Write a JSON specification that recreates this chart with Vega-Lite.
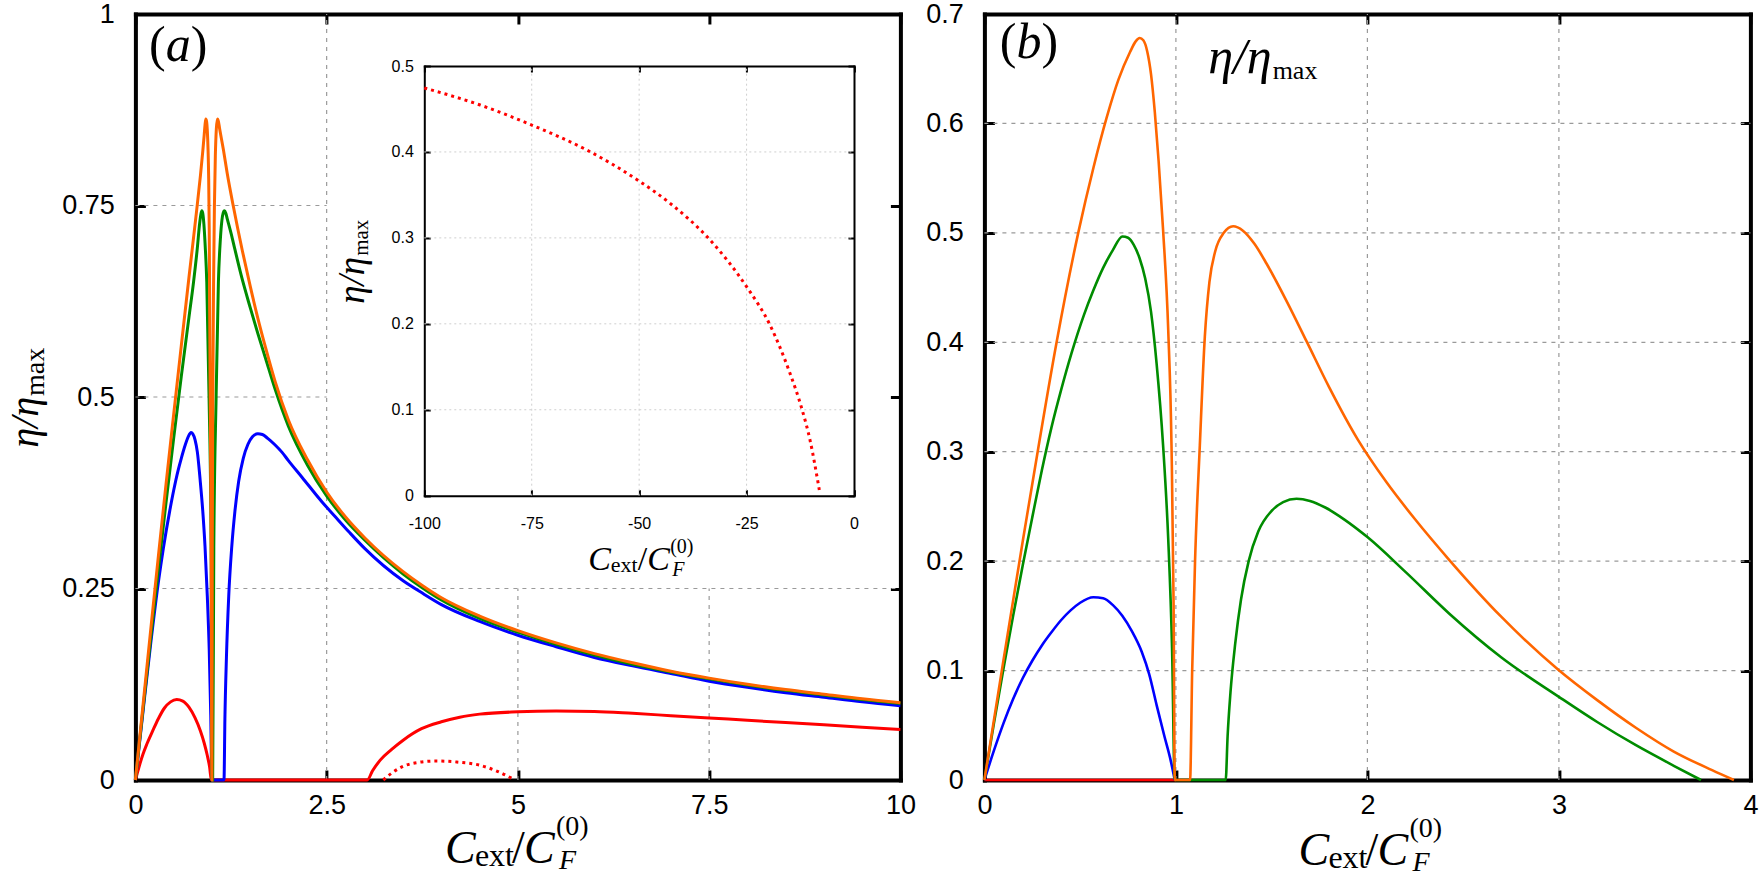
{
  "$schema": "https://vega.github.io/schema/vega-lite/v6.json",
  "background": "white",
  "autosize": {"type": "none"},
  "padding": {"left": 135.4, "top": 14, "right": 1626.6, "bottom": 872},
  "spacing": 84,
  "bounds": "flush",
  "config": {
    "view": {"stroke": null},
    "axis": {
      "labelFont": "Liberation Sans",
      "labelColor": "#000000",
      "labelFontSize": 27,
      "tickColor": "#000000",
      "domainColor": "#000000",
      "grid": false,
      "labelFlush": false,
      "labelOverlap": false,
      "zindex": 1,
      "domainCap": "square"
    },
    "text": {"font": "Liberation Serif", "color": "#000000"}
  },
  "datasets": {
    "gridA": [
      {"x": 2.5, "x2": 2.5, "y": 0, "y2": 1},
      {"x": 5, "x2": 5, "y": 0, "y2": 0.25},
      {"x": 7.5, "x2": 7.5, "y": 0, "y2": 0.25},
      {"x": 0, "x2": 10, "y": 0.25, "y2": 0.25},
      {"x": 0, "x2": 2.5, "y": 0.5, "y2": 0.5},
      {"x": 0, "x2": 2.5, "y": 0.75, "y2": 0.75}
    ],
    "gridInset": [
      {"x": -75, "x2": -75, "y": 0, "y2": 0.5},
      {"x": -50, "x2": -50, "y": 0, "y2": 0.5},
      {"x": -25, "x2": -25, "y": 0, "y2": 0.5},
      {"x": -100, "x2": 0, "y": 0.1, "y2": 0.1},
      {"x": -100, "x2": 0, "y": 0.2, "y2": 0.2},
      {"x": -100, "x2": 0, "y": 0.3, "y2": 0.3},
      {"x": -100, "x2": 0, "y": 0.4, "y2": 0.4}
    ],
    "gridB": [
      {"x": 1, "x2": 1, "y": 0, "y2": 0.7},
      {"x": 2, "x2": 2, "y": 0, "y2": 0.7},
      {"x": 3, "x2": 3, "y": 0, "y2": 0.7},
      {"x": 0, "x2": 4, "y": 0.1, "y2": 0.1},
      {"x": 0, "x2": 4, "y": 0.2, "y2": 0.2},
      {"x": 0, "x2": 4, "y": 0.3, "y2": 0.3},
      {"x": 0, "x2": 4, "y": 0.4, "y2": 0.4},
      {"x": 0, "x2": 4, "y": 0.5, "y2": 0.5},
      {"x": 0, "x2": 4, "y": 0.6, "y2": 0.6}
    ],
    "curvesA": [
      {"curve": "c1", "x": 0, "eta": 0}, {"curve": "c1", "x": 0.05, "eta": 0.018}, {"curve": "c1", "x": 0.1, "eta": 0.034}, {"curve": "c1", "x": 0.15, "eta": 0.047},
      {"curve": "c1", "x": 0.23, "eta": 0.065}, {"curve": "c1", "x": 0.3, "eta": 0.08}, {"curve": "c1", "x": 0.38, "eta": 0.094}, {"curve": "c1", "x": 0.46, "eta": 0.102},
      {"curve": "c1", "x": 0.54, "eta": 0.105}, {"curve": "c1", "x": 0.62, "eta": 0.103}, {"curve": "c1", "x": 0.7, "eta": 0.095}, {"curve": "c1", "x": 0.78, "eta": 0.081},
      {"curve": "c1", "x": 0.85, "eta": 0.064}, {"curve": "c1", "x": 0.9, "eta": 0.048}, {"curve": "c1", "x": 0.94, "eta": 0.032}, {"curve": "c1", "x": 0.97, "eta": 0.017},
      {"curve": "c1", "x": 0.993, "eta": 0}, {"curve": "c1", "x": 2.0, "eta": 0}, {"curve": "c1", "x": 3.03, "eta": 0}, {"curve": "c1", "x": 3.1, "eta": 0.012},
      {"curve": "c1", "x": 3.2, "eta": 0.026}, {"curve": "c1", "x": 3.35, "eta": 0.04}, {"curve": "c1", "x": 3.5, "eta": 0.052}, {"curve": "c1", "x": 3.74, "eta": 0.067},
      {"curve": "c1", "x": 4.0, "eta": 0.076}, {"curve": "c1", "x": 4.24, "eta": 0.082}, {"curve": "c1", "x": 4.5, "eta": 0.086}, {"curve": "c1", "x": 5.0, "eta": 0.089},
      {"curve": "c1", "x": 5.5, "eta": 0.09}, {"curve": "c1", "x": 6.0, "eta": 0.0895}, {"curve": "c1", "x": 6.5, "eta": 0.087}, {"curve": "c1", "x": 7.0, "eta": 0.084},
      {"curve": "c1", "x": 7.5, "eta": 0.081}, {"curve": "c1", "x": 8.0, "eta": 0.078}, {"curve": "c1", "x": 8.5, "eta": 0.075}, {"curve": "c1", "x": 9.0, "eta": 0.072},
      {"curve": "c1", "x": 9.5, "eta": 0.069}, {"curve": "c1", "x": 10, "eta": 0.066},

      {"curve": "c2", "x": 0, "eta": 0}, {"curve": "c2", "x": 0.1, "eta": 0.09}, {"curve": "c2", "x": 0.2, "eta": 0.178}, {"curve": "c2", "x": 0.3, "eta": 0.258},
      {"curve": "c2", "x": 0.366, "eta": 0.303}, {"curve": "c2", "x": 0.45, "eta": 0.352}, {"curve": "c2", "x": 0.5, "eta": 0.378}, {"curve": "c2", "x": 0.56, "eta": 0.405},
      {"curve": "c2", "x": 0.6, "eta": 0.42}, {"curve": "c2", "x": 0.65, "eta": 0.437}, {"curve": "c2", "x": 0.69, "eta": 0.448}, {"curve": "c2", "x": 0.728, "eta": 0.4535},
      {"curve": "c2", "x": 0.75, "eta": 0.452}, {"curve": "c2", "x": 0.78, "eta": 0.444}, {"curve": "c2", "x": 0.81, "eta": 0.428}, {"curve": "c2", "x": 0.846, "eta": 0.392},
      {"curve": "c2", "x": 0.88, "eta": 0.352}, {"curve": "c2", "x": 0.91, "eta": 0.305}, {"curve": "c2", "x": 0.94, "eta": 0.24}, {"curve": "c2", "x": 0.965, "eta": 0.17},
      {"curve": "c2", "x": 0.985, "eta": 0.085}, {"curve": "c2", "x": 1.0, "eta": 0}, {"curve": "c2", "x": 1.158, "eta": 0}, {"curve": "c2", "x": 1.17, "eta": 0.08},
      {"curve": "c2", "x": 1.19, "eta": 0.16}, {"curve": "c2", "x": 1.22, "eta": 0.24}, {"curve": "c2", "x": 1.26, "eta": 0.305}, {"curve": "c2", "x": 1.3, "eta": 0.35},
      {"curve": "c2", "x": 1.35, "eta": 0.39}, {"curve": "c2", "x": 1.41, "eta": 0.42}, {"curve": "c2", "x": 1.47, "eta": 0.438}, {"curve": "c2", "x": 1.53, "eta": 0.448},
      {"curve": "c2", "x": 1.6, "eta": 0.452}, {"curve": "c2", "x": 1.66, "eta": 0.451}, {"curve": "c2", "x": 1.73, "eta": 0.446}, {"curve": "c2", "x": 1.82, "eta": 0.438},
      {"curve": "c2", "x": 1.915, "eta": 0.428}, {"curve": "c2", "x": 2.0, "eta": 0.417}, {"curve": "c2", "x": 2.18, "eta": 0.395}, {"curve": "c2", "x": 2.44, "eta": 0.363},
      {"curve": "c2", "x": 2.61, "eta": 0.344}, {"curve": "c2", "x": 2.8, "eta": 0.323}, {"curve": "c2", "x": 3.0, "eta": 0.302}, {"curve": "c2", "x": 3.5, "eta": 0.26},
      {"curve": "c2", "x": 3.75, "eta": 0.244}, {"curve": "c2", "x": 4.0, "eta": 0.229}, {"curve": "c2", "x": 4.5, "eta": 0.207}, {"curve": "c2", "x": 5.0, "eta": 0.189},
      {"curve": "c2", "x": 5.5, "eta": 0.174}, {"curve": "c2", "x": 6.0, "eta": 0.16}, {"curve": "c2", "x": 6.5, "eta": 0.149}, {"curve": "c2", "x": 7.0, "eta": 0.139},
      {"curve": "c2", "x": 7.5, "eta": 0.129}, {"curve": "c2", "x": 8.0, "eta": 0.121}, {"curve": "c2", "x": 8.5, "eta": 0.114}, {"curve": "c2", "x": 9.0, "eta": 0.108},
      {"curve": "c2", "x": 9.5, "eta": 0.102}, {"curve": "c2", "x": 10, "eta": 0.097},

      {"curve": "c3", "x": 0, "eta": 0}, {"curve": "c3", "x": 0.1, "eta": 0.093}, {"curve": "c3", "x": 0.2, "eta": 0.185}, {"curve": "c3", "x": 0.3, "eta": 0.275},
      {"curve": "c3", "x": 0.4, "eta": 0.362}, {"curve": "c3", "x": 0.5, "eta": 0.446}, {"curve": "c3", "x": 0.6, "eta": 0.527}, {"curve": "c3", "x": 0.7, "eta": 0.604},
      {"curve": "c3", "x": 0.76, "eta": 0.65}, {"curve": "c3", "x": 0.81, "eta": 0.695}, {"curve": "c3", "x": 0.84, "eta": 0.727}, {"curve": "c3", "x": 0.855, "eta": 0.738},
      {"curve": "c3", "x": 0.868, "eta": 0.743}, {"curve": "c3", "x": 0.88, "eta": 0.74}, {"curve": "c3", "x": 0.895, "eta": 0.726}, {"curve": "c3", "x": 0.912, "eta": 0.698},
      {"curve": "c3", "x": 0.933, "eta": 0.65}, {"curve": "c3", "x": 0.963, "eta": 0.5}, {"curve": "c3", "x": 0.99, "eta": 0.305}, {"curve": "c3", "x": 1.0, "eta": 0},
      {"curve": "c3", "x": 1.01, "eta": 0}, {"curve": "c3", "x": 1.025, "eta": 0.305}, {"curve": "c3", "x": 1.055, "eta": 0.5}, {"curve": "c3", "x": 1.085, "eta": 0.65},
      {"curve": "c3", "x": 1.11, "eta": 0.705}, {"curve": "c3", "x": 1.13, "eta": 0.73}, {"curve": "c3", "x": 1.147, "eta": 0.74}, {"curve": "c3", "x": 1.164, "eta": 0.743},
      {"curve": "c3", "x": 1.182, "eta": 0.74}, {"curve": "c3", "x": 1.2, "eta": 0.733}, {"curve": "c3", "x": 1.25, "eta": 0.714}, {"curve": "c3", "x": 1.3, "eta": 0.693},
      {"curve": "c3", "x": 1.38, "eta": 0.66}, {"curve": "c3", "x": 1.5, "eta": 0.617}, {"curve": "c3", "x": 1.6, "eta": 0.583}, {"curve": "c3", "x": 1.7, "eta": 0.551},
      {"curve": "c3", "x": 1.827, "eta": 0.51}, {"curve": "c3", "x": 2.0, "eta": 0.462}, {"curve": "c3", "x": 2.25, "eta": 0.411}, {"curve": "c3", "x": 2.5, "eta": 0.371},
      {"curve": "c3", "x": 2.75, "eta": 0.339}, {"curve": "c3", "x": 3.0, "eta": 0.313}, {"curve": "c3", "x": 3.5, "eta": 0.269}, {"curve": "c3", "x": 3.75, "eta": 0.251},
      {"curve": "c3", "x": 4.0, "eta": 0.235}, {"curve": "c3", "x": 4.5, "eta": 0.211}, {"curve": "c3", "x": 5.0, "eta": 0.193}, {"curve": "c3", "x": 5.5, "eta": 0.177},
      {"curve": "c3", "x": 6.0, "eta": 0.163}, {"curve": "c3", "x": 6.5, "eta": 0.151}, {"curve": "c3", "x": 7.0, "eta": 0.141}, {"curve": "c3", "x": 7.5, "eta": 0.132},
      {"curve": "c3", "x": 8.0, "eta": 0.124}, {"curve": "c3", "x": 8.5, "eta": 0.117}, {"curve": "c3", "x": 9.0, "eta": 0.111}, {"curve": "c3", "x": 9.5, "eta": 0.105},
      {"curve": "c3", "x": 10, "eta": 0.1},

      {"curve": "c4", "x": 0, "eta": 0}, {"curve": "c4", "x": 0.1, "eta": 0.098}, {"curve": "c4", "x": 0.2, "eta": 0.196}, {"curve": "c4", "x": 0.3, "eta": 0.292},
      {"curve": "c4", "x": 0.4, "eta": 0.386}, {"curve": "c4", "x": 0.5, "eta": 0.477}, {"curve": "c4", "x": 0.6, "eta": 0.567}, {"curve": "c4", "x": 0.7, "eta": 0.656},
      {"curve": "c4", "x": 0.8, "eta": 0.743}, {"curve": "c4", "x": 0.85, "eta": 0.789}, {"curve": "c4", "x": 0.88, "eta": 0.82}, {"curve": "c4", "x": 0.9, "eta": 0.843},
      {"curve": "c4", "x": 0.91, "eta": 0.855}, {"curve": "c4", "x": 0.92, "eta": 0.863}, {"curve": "c4", "x": 0.93, "eta": 0.86}, {"curve": "c4", "x": 0.94, "eta": 0.848},
      {"curve": "c4", "x": 0.95, "eta": 0.822}, {"curve": "c4", "x": 0.958, "eta": 0.785}, {"curve": "c4", "x": 0.965, "eta": 0.72}, {"curve": "c4", "x": 0.972, "eta": 0.6},
      {"curve": "c4", "x": 0.978, "eta": 0.5}, {"curve": "c4", "x": 0.99, "eta": 0.305}, {"curve": "c4", "x": 1.0, "eta": 0}, {"curve": "c4", "x": 1.005, "eta": 0.305},
      {"curve": "c4", "x": 1.012, "eta": 0.5}, {"curve": "c4", "x": 1.022, "eta": 0.65}, {"curve": "c4", "x": 1.033, "eta": 0.75}, {"curve": "c4", "x": 1.045, "eta": 0.815},
      {"curve": "c4", "x": 1.058, "eta": 0.85}, {"curve": "c4", "x": 1.072, "eta": 0.863}, {"curve": "c4", "x": 1.085, "eta": 0.86}, {"curve": "c4", "x": 1.1, "eta": 0.851},
      {"curve": "c4", "x": 1.15, "eta": 0.823}, {"curve": "c4", "x": 1.2, "eta": 0.792}, {"curve": "c4", "x": 1.28, "eta": 0.749}, {"curve": "c4", "x": 1.4, "eta": 0.69},
      {"curve": "c4", "x": 1.5, "eta": 0.645}, {"curve": "c4", "x": 1.6, "eta": 0.603}, {"curve": "c4", "x": 1.7, "eta": 0.565}, {"curve": "c4", "x": 1.827, "eta": 0.52},
      {"curve": "c4", "x": 2.0, "eta": 0.47}, {"curve": "c4", "x": 2.25, "eta": 0.418}, {"curve": "c4", "x": 2.5, "eta": 0.376}, {"curve": "c4", "x": 2.75, "eta": 0.343},
      {"curve": "c4", "x": 3.0, "eta": 0.316}, {"curve": "c4", "x": 3.5, "eta": 0.272}, {"curve": "c4", "x": 3.75, "eta": 0.254}, {"curve": "c4", "x": 4.0, "eta": 0.238},
      {"curve": "c4", "x": 4.5, "eta": 0.214}, {"curve": "c4", "x": 5.0, "eta": 0.195}, {"curve": "c4", "x": 5.5, "eta": 0.179}, {"curve": "c4", "x": 6.0, "eta": 0.165},
      {"curve": "c4", "x": 6.5, "eta": 0.153}, {"curve": "c4", "x": 7.0, "eta": 0.142}, {"curve": "c4", "x": 7.5, "eta": 0.133}, {"curve": "c4", "x": 8.0, "eta": 0.125},
      {"curve": "c4", "x": 8.5, "eta": 0.118}, {"curve": "c4", "x": 9.0, "eta": 0.112}, {"curve": "c4", "x": 9.5, "eta": 0.106}, {"curve": "c4", "x": 10, "eta": 0.101}
    ],
    "secondBranchA": [
      {"x": 3.24, "eta": 0}, {"x": 3.35, "eta": 0.009}, {"x": 3.49, "eta": 0.0174}, {"x": 3.7, "eta": 0.023}, {"x": 3.94, "eta": 0.0248},
      {"x": 4.2, "eta": 0.0235}, {"x": 4.49, "eta": 0.0196}, {"x": 4.74, "eta": 0.011}, {"x": 4.96, "eta": 0}
    ],
    "negativeBranch": [
      {"x": -100, "eta": 0.4745}, {"x": -87, "eta": 0.4546}, {"x": -75, "eta": 0.4313}, {"x": -62.2, "eta": 0.4023}, {"x": -49.8, "eta": 0.3654},
      {"x": -42.8, "eta": 0.3402}, {"x": -33.5, "eta": 0.2975}, {"x": -25, "eta": 0.2432}, {"x": -19.55, "eta": 0.1986}, {"x": -14.9, "eta": 0.1424},
      {"x": -12.17, "eta": 0.1017}, {"x": -10.24, "eta": 0.0648}, {"x": -8.07, "eta": 0.0066}
    ],
    "curvesB": [
      {"curve": "c1", "x": 0, "eta": 0}, {"curve": "c1", "x": 1.0, "eta": 0},

      {"curve": "c2", "x": 0, "eta": 0}, {"curve": "c2", "x": 0.05, "eta": 0.027}, {"curve": "c2", "x": 0.1, "eta": 0.052}, {"curve": "c2", "x": 0.15, "eta": 0.074},
      {"curve": "c2", "x": 0.2, "eta": 0.093}, {"curve": "c2", "x": 0.25, "eta": 0.109}, {"curve": "c2", "x": 0.3, "eta": 0.123}, {"curve": "c2", "x": 0.35, "eta": 0.135},
      {"curve": "c2", "x": 0.4, "eta": 0.146}, {"curve": "c2", "x": 0.45, "eta": 0.155}, {"curve": "c2", "x": 0.5, "eta": 0.162}, {"curve": "c2", "x": 0.569, "eta": 0.167},
      {"curve": "c2", "x": 0.62, "eta": 0.166}, {"curve": "c2", "x": 0.67, "eta": 0.16}, {"curve": "c2", "x": 0.72, "eta": 0.15}, {"curve": "c2", "x": 0.77, "eta": 0.136},
      {"curve": "c2", "x": 0.822, "eta": 0.117}, {"curve": "c2", "x": 0.86, "eta": 0.097}, {"curve": "c2", "x": 0.9, "eta": 0.068}, {"curve": "c2", "x": 0.94, "eta": 0.04},
      {"curve": "c2", "x": 0.97, "eta": 0.02}, {"curve": "c2", "x": 0.994, "eta": 0},

      {"curve": "c3", "x": 0, "eta": 0}, {"curve": "c3", "x": 0.05, "eta": 0.052}, {"curve": "c3", "x": 0.1, "eta": 0.102}, {"curve": "c3", "x": 0.15, "eta": 0.15},
      {"curve": "c3", "x": 0.2, "eta": 0.196}, {"curve": "c3", "x": 0.25, "eta": 0.24}, {"curve": "c3", "x": 0.3, "eta": 0.283}, {"curve": "c3", "x": 0.35, "eta": 0.322},
      {"curve": "c3", "x": 0.4, "eta": 0.356}, {"curve": "c3", "x": 0.455, "eta": 0.39}, {"curve": "c3", "x": 0.52, "eta": 0.425}, {"curve": "c3", "x": 0.568, "eta": 0.447},
      {"curve": "c3", "x": 0.62, "eta": 0.468}, {"curve": "c3", "x": 0.67, "eta": 0.484}, {"curve": "c3", "x": 0.721, "eta": 0.4967}, {"curve": "c3", "x": 0.75, "eta": 0.4955},
      {"curve": "c3", "x": 0.78, "eta": 0.489}, {"curve": "c3", "x": 0.81, "eta": 0.477}, {"curve": "c3", "x": 0.84, "eta": 0.458}, {"curve": "c3", "x": 0.87, "eta": 0.428},
      {"curve": "c3", "x": 0.899, "eta": 0.381}, {"curve": "c3", "x": 0.933, "eta": 0.306}, {"curve": "c3", "x": 0.96, "eta": 0.22}, {"curve": "c3", "x": 0.98, "eta": 0.12},
      {"curve": "c3", "x": 0.994, "eta": 0}, {"curve": "c3", "x": 1.26, "eta": 0}, {"curve": "c3", "x": 1.27, "eta": 0.04}, {"curve": "c3", "x": 1.285, "eta": 0.08},
      {"curve": "c3", "x": 1.31, "eta": 0.125}, {"curve": "c3", "x": 1.34, "eta": 0.165}, {"curve": "c3", "x": 1.38, "eta": 0.2}, {"curve": "c3", "x": 1.43, "eta": 0.227},
      {"curve": "c3", "x": 1.5, "eta": 0.246}, {"curve": "c3", "x": 1.56, "eta": 0.254}, {"curve": "c3", "x": 1.63, "eta": 0.257}, {"curve": "c3", "x": 1.7, "eta": 0.255},
      {"curve": "c3", "x": 1.78, "eta": 0.249}, {"curve": "c3", "x": 1.88, "eta": 0.238}, {"curve": "c3", "x": 2.0, "eta": 0.222}, {"curve": "c3", "x": 2.2, "eta": 0.19},
      {"curve": "c3", "x": 2.428, "eta": 0.152}, {"curve": "c3", "x": 2.7, "eta": 0.112}, {"curve": "c3", "x": 3.0, "eta": 0.076}, {"curve": "c3", "x": 3.2, "eta": 0.053},
      {"curve": "c3", "x": 3.4, "eta": 0.032}, {"curve": "c3", "x": 3.6, "eta": 0.013}, {"curve": "c3", "x": 3.742, "eta": 0},

      {"curve": "c4", "x": 0, "eta": 0}, {"curve": "c4", "x": 0.1, "eta": 0.11}, {"curve": "c4", "x": 0.2, "eta": 0.218}, {"curve": "c4", "x": 0.281, "eta": 0.303},
      {"curve": "c4", "x": 0.377, "eta": 0.4}, {"curve": "c4", "x": 0.49, "eta": 0.5}, {"curve": "c4", "x": 0.57, "eta": 0.56}, {"curve": "c4", "x": 0.638, "eta": 0.605},
      {"curve": "c4", "x": 0.7, "eta": 0.64}, {"curve": "c4", "x": 0.76, "eta": 0.665}, {"curve": "c4", "x": 0.79, "eta": 0.675}, {"curve": "c4", "x": 0.811, "eta": 0.678},
      {"curve": "c4", "x": 0.83, "eta": 0.676}, {"curve": "c4", "x": 0.85, "eta": 0.666}, {"curve": "c4", "x": 0.87, "eta": 0.645}, {"curve": "c4", "x": 0.89, "eta": 0.61},
      {"curve": "c4", "x": 0.91, "eta": 0.565}, {"curve": "c4", "x": 0.933, "eta": 0.503}, {"curve": "c4", "x": 0.96, "eta": 0.411}, {"curve": "c4", "x": 0.977, "eta": 0.306},
      {"curve": "c4", "x": 0.988, "eta": 0.16}, {"curve": "c4", "x": 0.994, "eta": 0}, {"curve": "c4", "x": 1.074, "eta": 0}, {"curve": "c4", "x": 1.085, "eta": 0.1},
      {"curve": "c4", "x": 1.1, "eta": 0.2}, {"curve": "c4", "x": 1.125, "eta": 0.306}, {"curve": "c4", "x": 1.151, "eta": 0.405}, {"curve": "c4", "x": 1.175, "eta": 0.455},
      {"curve": "c4", "x": 1.205, "eta": 0.483}, {"curve": "c4", "x": 1.25, "eta": 0.5}, {"curve": "c4", "x": 1.299, "eta": 0.506}, {"curve": "c4", "x": 1.35, "eta": 0.502},
      {"curve": "c4", "x": 1.41, "eta": 0.49}, {"curve": "c4", "x": 1.473, "eta": 0.472}, {"curve": "c4", "x": 1.58, "eta": 0.437}, {"curve": "c4", "x": 1.682, "eta": 0.401},
      {"curve": "c4", "x": 1.8, "eta": 0.359}, {"curve": "c4", "x": 1.95, "eta": 0.311}, {"curve": "c4", "x": 2.1, "eta": 0.272}, {"curve": "c4", "x": 2.25, "eta": 0.238},
      {"curve": "c4", "x": 2.428, "eta": 0.201}, {"curve": "c4", "x": 2.7, "eta": 0.149}, {"curve": "c4", "x": 3.0, "eta": 0.1003}, {"curve": "c4", "x": 3.2, "eta": 0.073},
      {"curve": "c4", "x": 3.4, "eta": 0.048}, {"curve": "c4", "x": 3.6, "eta": 0.026}, {"curve": "c4", "x": 3.8, "eta": 0.009}, {"curve": "c4", "x": 3.914, "eta": 0}
    ]
  },
  "hconcat": [
    {
      "width": 765,
      "height": 766,
      "layer": [
        {
          "layer": [
            {
              "data": {"name": "gridA"},
              "mark": {"type": "rule", "color": "#9a9a9a", "strokeWidth": 1.2, "strokeDash": [4, 5]},
              "encoding": {
                "x": {"field": "x", "type": "quantitative", "scale": {"domain": [0, 10], "nice": false, "zero": false},
                  "axis": {"orient": "top", "values": [0, 2.5, 5, 7.5, 10], "labels": false, "title": null, "tickSize": -10, "tickWidth": 3, "domainWidth": 4}},
                "x2": {"field": "x2"},
                "y": {"field": "y", "type": "quantitative", "scale": {"domain": [0, 1], "nice": false, "zero": false},
                  "axis": {"orient": "right", "values": [0, 0.25, 0.5, 0.75, 1], "labels": false, "title": null, "tickSize": -10, "tickWidth": 3, "domainWidth": 4}},
                "y2": {"field": "y2"}
              }
            },
            {
              "data": {"name": "curvesA"},
              "mark": {"type": "line", "strokeWidth": 3, "interpolate": "monotone"},
              "encoding": {
                "x": {"field": "x", "type": "quantitative",
                  "axis": {"orient": "bottom", "values": [0, 2.5, 5, 7.5, 10], "title": null, "tickSize": -10, "tickWidth": 3, "domainWidth": 4, "labelPadding": 22, "labelExpr": "datum.value + ''"}},
                "y": {"field": "eta", "type": "quantitative",
                  "axis": {"orient": "left", "values": [0, 0.25, 0.5, 0.75, 1], "title": null, "tickSize": -10, "tickWidth": 3, "domainWidth": 4, "labelPadding": 31, "labelExpr": "datum.value + ''"}},
                "color": {"field": "curve", "type": "nominal", "legend": null,
                  "scale": {"domain": ["c1", "c2", "c3", "c4"], "range": ["#ff0000", "#0000ff", "#008c00", "#ff6600"]}}
              }
            },
            {
              "data": {"name": "secondBranchA"},
              "mark": {"type": "line", "color": "#ff0000", "strokeWidth": 3, "strokeDash": [3, 4], "interpolate": "monotone"},
              "encoding": {
                "x": {"field": "x", "type": "quantitative", "axis": null},
                "y": {"field": "eta", "type": "quantitative", "axis": null}
              }
            },
            {"data": {"values": [{}]}, "mark": {"type": "text", "text": "(", "fontSize": 50, "align": "left", "baseline": "alphabetic"},
              "encoding": {"x": {"datum": 0.178, "type": "quantitative", "axis": null}, "y": {"datum": 0.939, "type": "quantitative", "axis": null}}},
            {"data": {"values": [{}]}, "mark": {"type": "text", "text": "a", "fontSize": 50, "fontStyle": "italic", "align": "left", "baseline": "alphabetic", "dx": 16.7},
              "encoding": {"x": {"datum": 0.178, "type": "quantitative", "axis": null}, "y": {"datum": 0.939, "type": "quantitative", "axis": null}}},
            {"data": {"values": [{}]}, "mark": {"type": "text", "text": ")", "fontSize": 50, "align": "left", "baseline": "alphabetic", "dx": 41.7},
              "encoding": {"x": {"datum": 0.178, "type": "quantitative", "axis": null}, "y": {"datum": 0.939, "type": "quantitative", "axis": null}}},

            {"data": {"values": [{}]}, "mark": {"type": "text", "text": "C", "fontSize": 46, "fontStyle": "italic", "align": "left", "baseline": "alphabetic", "dx": -73, "dy": 83},
              "encoding": {"x": {"datum": 5, "type": "quantitative", "axis": null}, "y": {"datum": 0, "type": "quantitative", "axis": null}}},
            {"data": {"values": [{}]}, "mark": {"type": "text", "text": "ext", "fontSize": 32, "align": "left", "baseline": "alphabetic", "dx": -43, "dy": 86},
              "encoding": {"x": {"datum": 5, "type": "quantitative", "axis": null}, "y": {"datum": 0, "type": "quantitative", "axis": null}}},
            {"data": {"values": [{}]}, "mark": {"type": "text", "text": "/", "fontSize": 46, "align": "left", "baseline": "alphabetic", "dx": -6, "dy": 83},
              "encoding": {"x": {"datum": 5, "type": "quantitative", "axis": null}, "y": {"datum": 0, "type": "quantitative", "axis": null}}},
            {"data": {"values": [{}]}, "mark": {"type": "text", "text": "C", "fontSize": 46, "fontStyle": "italic", "align": "left", "baseline": "alphabetic", "dx": 6, "dy": 83},
              "encoding": {"x": {"datum": 5, "type": "quantitative", "axis": null}, "y": {"datum": 0, "type": "quantitative", "axis": null}}},
            {"data": {"values": [{}]}, "mark": {"type": "text", "text": "(0)", "fontSize": 28, "align": "left", "baseline": "alphabetic", "dx": 38, "dy": 55},
              "encoding": {"x": {"datum": 5, "type": "quantitative", "axis": null}, "y": {"datum": 0, "type": "quantitative", "axis": null}}},
            {"data": {"values": [{}]}, "mark": {"type": "text", "text": "F", "fontSize": 28, "fontStyle": "italic", "align": "left", "baseline": "alphabetic", "dx": 41, "dy": 89},
              "encoding": {"x": {"datum": 5, "type": "quantitative", "axis": null}, "y": {"datum": 0, "type": "quantitative", "axis": null}}},

            {"data": {"values": [{}]}, "mark": {"type": "text", "text": "η/η", "fontSize": 40, "fontStyle": "italic", "angle": 270, "align": "right", "baseline": "alphabetic", "dy": -97},
              "encoding": {"x": {"datum": 0, "type": "quantitative", "axis": null}, "y": {"datum": 0.5, "type": "quantitative", "axis": null}}},
            {"data": {"values": [{}]}, "mark": {"type": "text", "text": "max", "fontSize": 28, "angle": 270, "align": "left", "baseline": "alphabetic", "dx": 1, "dy": -91},
              "encoding": {"x": {"datum": 0, "type": "quantitative", "axis": null}, "y": {"datum": 0.5, "type": "quantitative", "axis": null}}}
          ]
        },
        {
          "layer": [
            {
              "data": {"name": "gridInset"},
              "mark": {"type": "rule", "color": "#cfcfcf", "strokeWidth": 1, "strokeDash": [2, 3]},
              "encoding": {
                "x": {"field": "x", "type": "quantitative", "scale": {"domain": [-100, 0], "range": [288.9, 718.6], "nice": false, "zero": false},
                  "axis": {"orient": "top", "offset": -52, "values": [-100, -75, -50, -25, 0], "labels": false, "title": null, "tickSize": -6, "tickWidth": 2, "domainWidth": 2}},
                "x2": {"field": "x2"},
                "y": {"field": "y", "type": "quantitative", "scale": {"domain": [0, 0.5], "range": [481.7, 52], "nice": false, "zero": false},
                  "axis": {"orient": "right", "offset": -46.4, "values": [0, 0.1, 0.2, 0.3, 0.4, 0.5], "labels": false, "title": null, "tickSize": -6, "tickWidth": 2, "domainWidth": 2}},
                "y2": {"field": "y2"}
              }
            },
            {
              "data": {"name": "negativeBranch"},
              "mark": {"type": "line", "color": "#ff0000", "strokeWidth": 3, "strokeDash": [3, 4], "interpolate": "monotone"},
              "encoding": {
                "x": {"field": "x", "type": "quantitative",
                  "axis": {"orient": "bottom", "offset": -284.3, "values": [-100, -75, -50, -25, 0], "title": null, "tickSize": -6, "tickWidth": 2, "domainWidth": 2, "labelFontSize": 16, "labelPadding": 26, "labelExpr": "datum.value + ''"}},
                "y": {"field": "eta", "type": "quantitative",
                  "axis": {"orient": "left", "offset": -288.9, "values": [0, 0.1, 0.2, 0.3, 0.4, 0.5], "title": null, "tickSize": -6, "tickWidth": 2, "domainWidth": 2, "labelFontSize": 16, "labelPadding": 17, "labelExpr": "datum.value + ''"}}
              }
            },
            {"data": {"values": [{}]}, "mark": {"type": "text", "text": "C", "fontSize": 34, "fontStyle": "italic", "align": "left", "baseline": "alphabetic", "dx": -51, "dy": 74},
              "encoding": {"x": {"datum": -50, "type": "quantitative", "axis": null}, "y": {"datum": 0, "type": "quantitative", "axis": null}}},
            {"data": {"values": [{}]}, "mark": {"type": "text", "text": "ext", "fontSize": 22, "align": "left", "baseline": "alphabetic", "dx": -28.3, "dy": 76},
              "encoding": {"x": {"datum": -50, "type": "quantitative", "axis": null}, "y": {"datum": 0, "type": "quantitative", "axis": null}}},
            {"data": {"values": [{}]}, "mark": {"type": "text", "text": "/", "fontSize": 34, "align": "left", "baseline": "alphabetic", "dx": -1.4, "dy": 74},
              "encoding": {"x": {"datum": -50, "type": "quantitative", "axis": null}, "y": {"datum": 0, "type": "quantitative", "axis": null}}},
            {"data": {"values": [{}]}, "mark": {"type": "text", "text": "C", "fontSize": 34, "fontStyle": "italic", "align": "left", "baseline": "alphabetic", "dx": 8, "dy": 74},
              "encoding": {"x": {"datum": -50, "type": "quantitative", "axis": null}, "y": {"datum": 0, "type": "quantitative", "axis": null}}},
            {"data": {"values": [{}]}, "mark": {"type": "text", "text": "(0)", "fontSize": 20, "align": "left", "baseline": "alphabetic", "dx": 31, "dy": 57},
              "encoding": {"x": {"datum": -50, "type": "quantitative", "axis": null}, "y": {"datum": 0, "type": "quantitative", "axis": null}}},
            {"data": {"values": [{}]}, "mark": {"type": "text", "text": "F", "fontSize": 20, "fontStyle": "italic", "align": "left", "baseline": "alphabetic", "dx": 33, "dy": 80},
              "encoding": {"x": {"datum": -50, "type": "quantitative", "axis": null}, "y": {"datum": 0, "type": "quantitative", "axis": null}}},
            {"data": {"values": [{}]}, "mark": {"type": "text", "text": "η/η", "fontSize": 37, "fontStyle": "italic", "angle": 270, "align": "right", "baseline": "alphabetic", "dy": -60},
              "encoding": {"x": {"datum": -100, "type": "quantitative", "axis": null}, "y": {"datum": 0.278, "type": "quantitative", "axis": null}}},
            {"data": {"values": [{}]}, "mark": {"type": "text", "text": "max", "fontSize": 21, "angle": 270, "align": "left", "baseline": "alphabetic", "dx": 1, "dy": -56},
              "encoding": {"x": {"datum": -100, "type": "quantitative", "axis": null}, "y": {"datum": 0.278, "type": "quantitative", "axis": null}}}
          ]
        }
      ],
      "resolve": {"scale": {"x": "independent", "y": "independent"}, "axis": {"x": "independent", "y": "independent"}}
    },
    {
      "width": 766,
      "height": 766,
      "layer": [
        {
          "data": {"name": "gridB"},
          "mark": {"type": "rule", "color": "#9a9a9a", "strokeWidth": 1.2, "strokeDash": [4, 5]},
          "encoding": {
            "x": {"field": "x", "type": "quantitative", "scale": {"domain": [0, 4], "nice": false, "zero": false},
              "axis": {"orient": "top", "values": [0, 1, 2, 3, 4], "labels": false, "title": null, "tickSize": -10, "tickWidth": 3, "domainWidth": 4}},
            "x2": {"field": "x2"},
            "y": {"field": "y", "type": "quantitative", "scale": {"domain": [0, 0.7], "nice": false, "zero": false},
              "axis": {"orient": "right", "values": [0, 0.1, 0.2, 0.3, 0.4, 0.5, 0.6, 0.7], "labels": false, "title": null, "tickSize": -10, "tickWidth": 3, "domainWidth": 4}},
            "y2": {"field": "y2"}
          }
        },
        {
          "data": {"name": "curvesB"},
          "mark": {"type": "line", "strokeWidth": 2.6, "interpolate": "monotone"},
          "encoding": {
            "x": {"field": "x", "type": "quantitative",
              "axis": {"orient": "bottom", "values": [0, 1, 2, 3, 4], "title": null, "tickSize": -10, "tickWidth": 3, "domainWidth": 4, "labelPadding": 22, "labelExpr": "datum.value + ''"}},
            "y": {"field": "eta", "type": "quantitative",
              "axis": {"orient": "left", "values": [0, 0.1, 0.2, 0.3, 0.4, 0.5, 0.6, 0.7], "title": null, "tickSize": -10, "tickWidth": 3, "domainWidth": 4, "labelPadding": 31, "labelExpr": "datum.value + ''"}},
            "color": {"field": "curve", "type": "nominal", "legend": null,
              "scale": {"domain": ["c1", "c2", "c3", "c4"], "range": ["#ff0000", "#0000ff", "#008c00", "#ff6600"]}}
          }
        },
        {"data": {"values": [{}]}, "mark": {"type": "text", "text": "(", "fontSize": 50, "align": "left", "baseline": "alphabetic"},
          "encoding": {"x": {"datum": 0.08, "type": "quantitative", "axis": null}, "y": {"datum": 0.66, "type": "quantitative", "axis": null}}},
        {"data": {"values": [{}]}, "mark": {"type": "text", "text": "b", "fontSize": 50, "fontStyle": "italic", "align": "left", "baseline": "alphabetic", "dx": 16.7},
          "encoding": {"x": {"datum": 0.08, "type": "quantitative", "axis": null}, "y": {"datum": 0.66, "type": "quantitative", "axis": null}}},
        {"data": {"values": [{}]}, "mark": {"type": "text", "text": ")", "fontSize": 50, "align": "left", "baseline": "alphabetic", "dx": 41.7},
          "encoding": {"x": {"datum": 0.08, "type": "quantitative", "axis": null}, "y": {"datum": 0.66, "type": "quantitative", "axis": null}}},
        {"data": {"values": [{}]}, "mark": {"type": "text", "text": "η/η", "fontSize": 50, "fontStyle": "italic", "align": "right", "baseline": "alphabetic"},
          "encoding": {"x": {"datum": 1.5, "type": "quantitative", "axis": null}, "y": {"datum": 0.646, "type": "quantitative", "axis": null}}},
        {"data": {"values": [{}]}, "mark": {"type": "text", "text": "max", "fontSize": 26, "align": "left", "baseline": "alphabetic", "dx": 1, "dy": 6},
          "encoding": {"x": {"datum": 1.5, "type": "quantitative", "axis": null}, "y": {"datum": 0.646, "type": "quantitative", "axis": null}}},

        {"data": {"values": [{}]}, "mark": {"type": "text", "text": "C", "fontSize": 46, "fontStyle": "italic", "align": "left", "baseline": "alphabetic", "dx": -69, "dy": 85},
          "encoding": {"x": {"datum": 2, "type": "quantitative", "axis": null}, "y": {"datum": 0, "type": "quantitative", "axis": null}}},
        {"data": {"values": [{}]}, "mark": {"type": "text", "text": "ext", "fontSize": 32, "align": "left", "baseline": "alphabetic", "dx": -39, "dy": 88},
          "encoding": {"x": {"datum": 2, "type": "quantitative", "axis": null}, "y": {"datum": 0, "type": "quantitative", "axis": null}}},
        {"data": {"values": [{}]}, "mark": {"type": "text", "text": "/", "fontSize": 46, "align": "left", "baseline": "alphabetic", "dx": -2, "dy": 85},
          "encoding": {"x": {"datum": 2, "type": "quantitative", "axis": null}, "y": {"datum": 0, "type": "quantitative", "axis": null}}},
        {"data": {"values": [{}]}, "mark": {"type": "text", "text": "C", "fontSize": 46, "fontStyle": "italic", "align": "left", "baseline": "alphabetic", "dx": 10, "dy": 85},
          "encoding": {"x": {"datum": 2, "type": "quantitative", "axis": null}, "y": {"datum": 0, "type": "quantitative", "axis": null}}},
        {"data": {"values": [{}]}, "mark": {"type": "text", "text": "(0)", "fontSize": 28, "align": "left", "baseline": "alphabetic", "dx": 42, "dy": 57},
          "encoding": {"x": {"datum": 2, "type": "quantitative", "axis": null}, "y": {"datum": 0, "type": "quantitative", "axis": null}}},
        {"data": {"values": [{}]}, "mark": {"type": "text", "text": "F", "fontSize": 28, "fontStyle": "italic", "align": "left", "baseline": "alphabetic", "dx": 45, "dy": 91},
          "encoding": {"x": {"datum": 2, "type": "quantitative", "axis": null}, "y": {"datum": 0, "type": "quantitative", "axis": null}}}
      ]
    }
  ]
}
